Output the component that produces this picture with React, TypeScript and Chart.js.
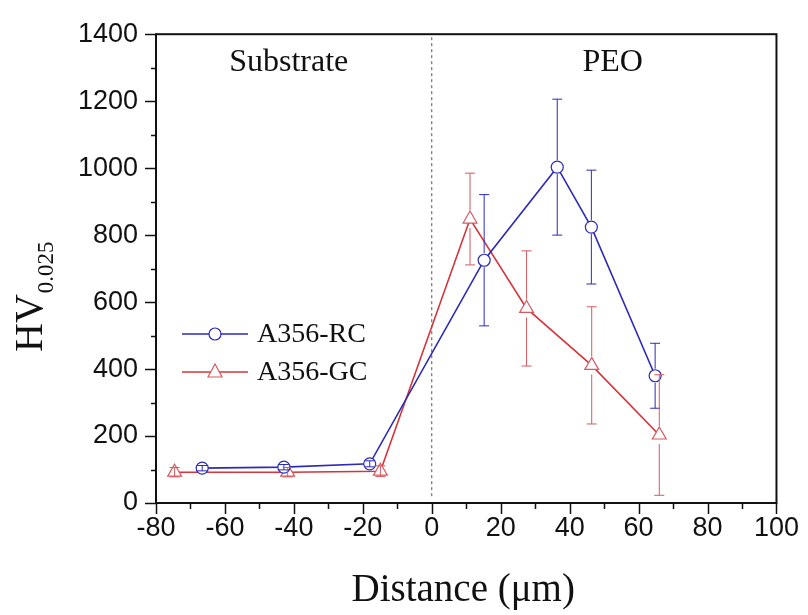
import React, { useEffect, useRef } from 'react';
import { Chart, registerables } from 'chart.js';

Chart.register(...registerables);

// ---- data ----
const seriesNames = ['A356-RC', 'A356-GC'];
const rcX = [-66.6, -42.9, -18.0, 15.2, 36.4, 46.3, 64.8];
const rcY = [104, 107, 117, 725, 1003, 824, 380];
const rcErr = [8, 8, 9, 196, 203, 170, 97];
const gcX = [-74.6, -41.8, -14.9, 11.1, 27.5, 46.4, 66.0];
const gcY = [92, 92, 95, 848, 581, 411, 203];
const gcErr = [14, 14, 16, 137, 172, 175, 180];
const xRange = [-80, 100];
const yRange = [0, 1400];
const xStep = 20;
const yStep = 200;
const dividerX = 0;
const regionLabels = ['Substrate', 'PEO'];
const regionLabelX = [-41.5, 52.5];
const xTitle = 'Distance (\u03bcm)';
const yTitleMain = 'HV';
const yTitleSub = '0.025';

const BLUE = '#2b2bb8';
const RED = '#d4343a';
const RED_MARK = '#d45a60';
const SERIF = '"Liberation Serif", "Times New Roman", serif';
const SANS = '"Liberation Sans", Arial, sans-serif';

const errs = [rcErr, gcErr];
const colors = [BLUE, RED];

const decor = {
  id: 'decor',
  beforeDatasetsDraw(chart: any) {
    const { ctx, chartArea: a, scales } = chart;
    const x0 = scales.x.getPixelForValue(dividerX);
    ctx.save();
    ctx.strokeStyle = '#555';
    ctx.lineWidth = 1;
    ctx.setLineDash([3, 3]);
    ctx.beginPath();
    ctx.moveTo(x0, a.top + 3);
    ctx.lineTo(x0, a.bottom - 6);
    ctx.stroke();
    ctx.restore();
  },
  afterDatasetsDraw(chart: any) {
    const { ctx, scales } = chart;
    ctx.save();
    ctx.lineWidth = 1;
    chart.data.datasets.forEach((ds: any, di: number) => {
      const r = ds.pointRadius + 1;
      ctx.strokeStyle = di === 0 ? BLUE : RED_MARK;
      ds.data.forEach((p: any, i: number) => {
        const px = scales.x.getPixelForValue(p.x);
        const py = scales.y.getPixelForValue(p.y);
        const top = scales.y.getPixelForValue(p.y + errs[di][i]);
        const bot = scales.y.getPixelForValue(p.y - errs[di][i]);
        ctx.beginPath();
        if (py - top > r) {
          ctx.moveTo(px, top);
          ctx.lineTo(px, py - r);
          ctx.moveTo(px, py + r);
          ctx.lineTo(px, bot);
        } else {
          ctx.moveTo(px, top);
          ctx.lineTo(px, bot);
        }
        ctx.moveTo(px - 5, top);
        ctx.lineTo(px + 5, top);
        ctx.moveTo(px - 5, bot);
        ctx.lineTo(px + 5, bot);
        ctx.stroke();
      });
    });
    ctx.restore();
  },
  afterDraw(chart: any) {
    const { ctx, chartArea: a, scales } = chart;
    ctx.save();
    // frame
    ctx.strokeStyle = '#111';
    ctx.lineWidth = 2;
    ctx.strokeRect(a.left, a.top, a.right - a.left, a.bottom - a.top);
    // ticks
    ctx.lineWidth = 1.5;
    ctx.beginPath();
    for (let v = xRange[0]; v <= xRange[1]; v += xStep / 2) {
      const px = Math.round(scales.x.getPixelForValue(v)) + 0.5;
      const len = (v - xRange[0]) % xStep === 0 ? 11 : 6;
      ctx.moveTo(px, a.bottom);
      ctx.lineTo(px, a.bottom + len);
    }
    for (let v = yRange[0]; v <= yRange[1]; v += yStep / 2) {
      const py = Math.round(scales.y.getPixelForValue(v)) + 0.5;
      const len = (v - yRange[0]) % yStep === 0 ? 11 : 5;
      ctx.moveTo(a.left, py);
      ctx.lineTo(a.left - len, py);
    }
    ctx.stroke();

    // region labels
    ctx.fillStyle = '#111';
    ctx.font = `32px ${SERIF}`;
    ctx.textAlign = 'center';
    ctx.textBaseline = 'alphabetic';
    regionLabels.forEach((t, i) => {
      ctx.fillText(t, scales.x.getPixelForValue(regionLabelX[i]), a.top + 37);
    });

    // x title
    ctx.font = `39px ${SERIF}`;
    ctx.fillText(xTitle, (a.left + a.right) / 2 - 3, 601);

    // y title
    ctx.save();
    ctx.translate(42, 352);
    ctx.rotate(-Math.PI / 2);
    ctx.textAlign = 'left';
    ctx.font = `40px ${SERIF}`;
    ctx.fillText(yTitleMain, 0, 0);
    const w = ctx.measureText(yTitleMain).width;
    ctx.font = `23px ${SERIF}`;
    ctx.fillText(yTitleSub, w + 1, 11);
    ctx.restore();

    // legend
    const legY = [334, 372];
    ctx.font = `28px ${SERIF}`;
    ctx.textAlign = 'left';
    ctx.textBaseline = 'middle';
    seriesNames.forEach((name, i) => {
      const y = legY[i];
      ctx.strokeStyle = colors[i];
      ctx.lineWidth = 1.5;
      ctx.beginPath();
      ctx.moveTo(182, y);
      ctx.lineTo(248, y);
      ctx.stroke();
      ctx.fillStyle = '#fff';
      ctx.lineWidth = 1.2;
      ctx.beginPath();
      if (i === 0) {
        ctx.strokeStyle = BLUE;
        ctx.arc(215, y, 6, 0, Math.PI * 2);
      } else {
        ctx.strokeStyle = RED_MARK;
        ctx.moveTo(215, y - 8);
        ctx.lineTo(222, y + 5);
        ctx.lineTo(208, y + 5);
        ctx.closePath();
      }
      ctx.fill();
      ctx.stroke();
      ctx.fillStyle = '#111';
      ctx.fillText(name, 257, y + 1);
    });
    ctx.restore();
  },
};

export default function App() {
  const ref = useRef<HTMLCanvasElement>(null);
  useEffect(() => {
    const chart = new Chart(ref.current as HTMLCanvasElement, {
      type: 'line',
      data: {
        datasets: [
          {
            label: seriesNames[0],
            data: rcX.map((x, i) => ({ x, y: rcY[i] })),
            borderColor: BLUE,
            borderWidth: 1.6,
            pointStyle: 'circle',
            pointRadius: 6,
            pointBorderWidth: 1.2,
            pointBorderColor: BLUE,
            pointBackgroundColor: '#fff',
            tension: 0,
          },
          {
            label: seriesNames[1],
            data: gcX.map((x, i) => ({ x, y: gcY[i] })),
            borderColor: RED,
            borderWidth: 1.6,
            pointStyle: 'triangle',
            pointRadius: 8,
            pointBorderWidth: 1.2,
            pointBorderColor: RED_MARK,
            pointBackgroundColor: '#fff',
            tension: 0,
          },
        ],
      },
      options: {
        animation: false,
        responsive: true,
        maintainAspectRatio: false,
        layout: { padding: { top: 33, right: 28, left: 0, bottom: 0 } },
        plugins: { legend: { display: false }, tooltip: { enabled: false } },
        scales: {
          x: {
            type: 'linear',
            min: xRange[0],
            max: xRange[1],
            grid: { display: false, drawTicks: false },
            border: { display: false },
            ticks: {
              stepSize: xStep,
              color: '#111',
              padding: 9,
              font: { family: SANS, size: 27 },
              callback: (v: any) => String(v),
            },
            afterFit: (s: any) => { s.height = 112; },
          },
          y: {
            min: yRange[0],
            max: yRange[1],
            grid: { display: false, drawTicks: false },
            border: { display: false },
            ticks: {
              stepSize: yStep,
              color: '#111',
              padding: 18,
              font: { family: SANS, size: 27 },
              callback: (v: any) => String(v),
            },
            afterFit: (s: any) => { s.width = 156; },
          },
        },
      },
      plugins: [decor],
    });
    return () => chart.destroy();
  }, []);
  return (
    <div style={{ position: 'absolute', left: 0, top: 0, width: 808, height: 615, background: '#fff' }}>
      <canvas ref={ref} />
    </div>
  );
}
